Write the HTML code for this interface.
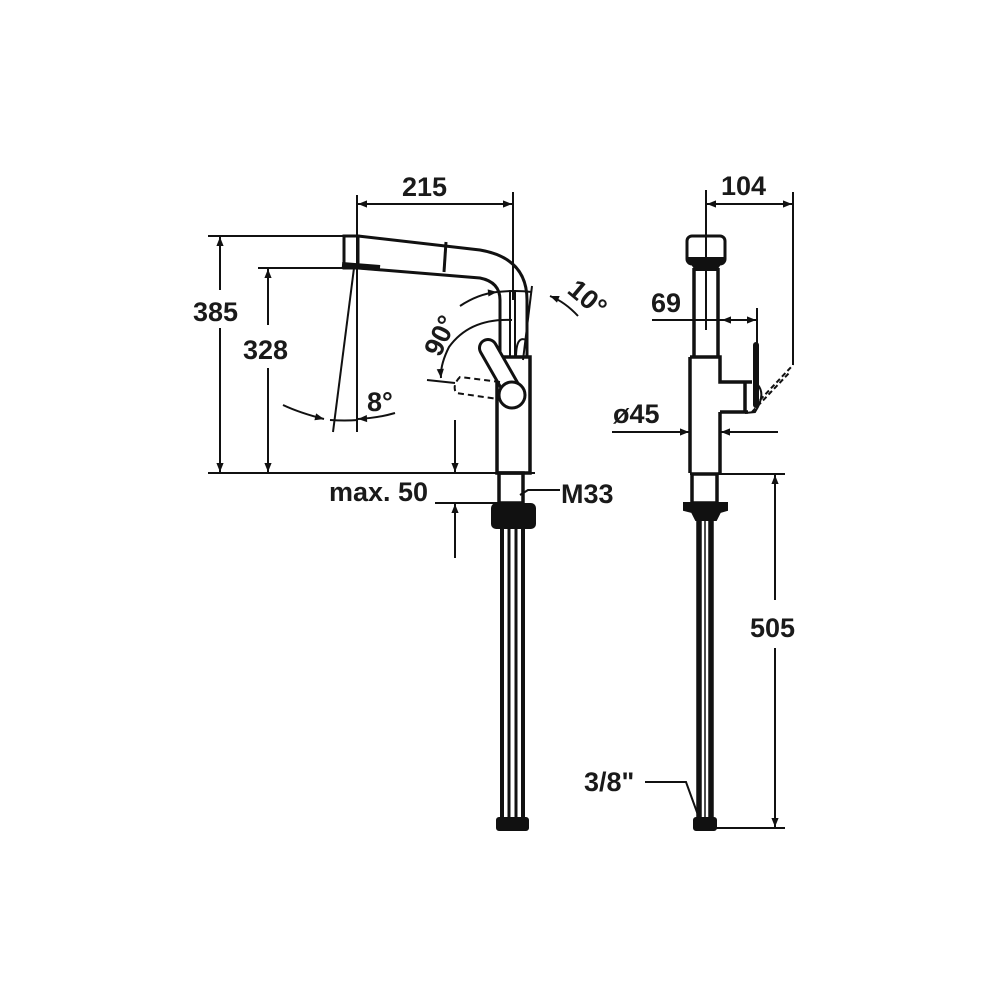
<!DOCTYPE html>
<html><head><style>html,body{margin:0;padding:0;background:#fff}svg{display:block}</style></head>
<body>
<svg width="1000" height="1000" viewBox="0 0 1000 1000" xmlns="http://www.w3.org/2000/svg">
<defs>
<marker id="a" viewBox="0 0 10 10" refX="10" refY="5" markerWidth="12" markerHeight="9" orient="auto-start-reverse" markerUnits="userSpaceOnUse"><path d="M0,1 L10,5 L0,9 z" fill="#111"/></marker>
</defs>
<g font-family="Liberation Sans, sans-serif" font-weight="bold" font-size="27" fill="#1a1a1a">
<text x="402" y="196">215</text>
<text x="193" y="321">385</text>
<text x="243" y="359">328</text>
<text x="367" y="411">8°</text>
<text x="329" y="501">max. 50</text>
<text x="561" y="503">M33</text>
<text x="0" y="0" transform="translate(566,292) rotate(40)">10°</text>
<text x="0" y="0" transform="translate(440,358) rotate(-65)">90°</text>
<text x="721" y="195">104</text>
<text x="651" y="312">69</text>
<text x="613" y="423">ø45</text>
<text x="750" y="637">505</text>
<text x="584" y="791">3/8"</text>
</g>
<g stroke="#111" fill="none" stroke-width="2">
<line x1="208" y1="236" x2="345" y2="236"/>
<line x1="220" y1="290" x2="220" y2="237" marker-end="url(#a)"/>
<line x1="220" y1="328" x2="220" y2="472" marker-end="url(#a)"/>
<line x1="258" y1="268" x2="345" y2="268"/>
<line x1="268" y1="325" x2="268" y2="269" marker-end="url(#a)"/>
<line x1="268" y1="368" x2="268" y2="472" marker-end="url(#a)"/>
<line x1="208" y1="473" x2="535" y2="473"/>
<line x1="357" y1="195" x2="357" y2="432"/>
<line x1="513" y1="192" x2="513" y2="300"/>
<line x1="358" y1="204" x2="512" y2="204" marker-start="url(#a)" marker-end="url(#a)"/>
<line x1="354" y1="268" x2="333" y2="432"/>
<path d="M283,405 Q300,413 324,419" marker-end="url(#a)"/>
<path d="M395,413 Q378,418 358,419" marker-end="url(#a)"/>
<path d="M330,420 Q345,421 358,420"/>
<line x1="532" y1="286" x2="523" y2="360"/>
<path d="M460,306 Q478,294 497,292" marker-end="url(#a)"/>
<path d="M578,316 Q565,302 550,296" marker-end="url(#a)"/>
<path d="M497,292 Q515,290 532,292"/>
<path d="M512,320 Q470,318 449,347 Q440,365 441,378" marker-end="url(#a)"/>
<line x1="427" y1="380" x2="455" y2="383"/>
<line x1="455" y1="420" x2="455" y2="472" marker-end="url(#a)"/>
<line x1="455" y1="558" x2="455" y2="504" marker-end="url(#a)"/>
<line x1="435" y1="503" x2="500" y2="503"/>
<path d="M560,490 L528,490 L520,495"/>
<path d="M358,236 L480,250 Q527,258 527,300 L527,357" stroke-width="3"/>
<path d="M358,268 L480,278 Q500,282 500,300 L500,357" stroke-width="3"/>
<line x1="510" y1="290" x2="510" y2="357"/>
<line x1="515" y1="290" x2="515" y2="357"/>
<rect x="344" y="236" width="14" height="32" stroke-width="3"/>
<line x1="342" y1="265" x2="380" y2="268" stroke-width="6"/>
<line x1="446" y1="242" x2="444" y2="272" stroke-width="3"/>
<rect x="497" y="357" width="33" height="116" stroke-width="3.5"/>
<rect x="499" y="473" width="24" height="30" stroke-width="3.5"/>
<path d="M516,358 Q516,335 526,340"/>
<path d="M488,348 L512,390" stroke="#111" stroke-width="20" stroke-linecap="round"/>
<path d="M488,348 L512,390" stroke="#fff" stroke-width="14" stroke-linecap="round"/>
<circle cx="512" cy="395" r="13" fill="#fff" stroke-width="3"/>
<path d="M500,382 L460,377 Q452,385 456,393 L498,399" stroke-dasharray="6,4"/>
<rect x="492" y="504" width="43" height="24" rx="4" fill="#111"/>
<line x1="502" y1="528" x2="502" y2="820" stroke-width="4"/>
<line x1="509" y1="528" x2="509" y2="820" stroke-width="3"/>
<line x1="516" y1="528" x2="516" y2="820" stroke-width="3"/>
<line x1="523" y1="528" x2="523" y2="820" stroke-width="4"/>
<rect x="497" y="818" width="31" height="12" rx="2" fill="#111"/>
<line x1="706" y1="190" x2="706" y2="330"/>
<line x1="793" y1="192" x2="793" y2="365"/>
<line x1="707" y1="204" x2="792" y2="204" marker-start="url(#a)" marker-end="url(#a)"/>
<rect x="687" y="236" width="38" height="28" rx="5" stroke-width="3"/>
<path d="M688,258 L724,258 L716,270 L696,270 z" fill="#111"/>
<line x1="694" y1="268" x2="694" y2="358" stroke-width="3.5"/>
<line x1="718" y1="268" x2="718" y2="358" stroke-width="3.5"/>
<path d="M690,357 L720,357 L720,382 L752,382 M720,412 L748,412 M745,382 L745,412" stroke-width="3.5"/>
<path d="M690,357 L690,473 M720,412 L720,473" stroke-width="3.5"/>
<line x1="756" y1="345" x2="756" y2="405" stroke-width="6" stroke-linecap="round"/>
<path d="M758,385 Q766,395 755,412 L745,413" stroke-width="2"/>
<path d="M760,400 L793,365 M752,412 L790,372" stroke-dasharray="5,3"/>
<line x1="757" y1="308" x2="757" y2="345"/>
<line x1="652" y1="320" x2="756" y2="320" marker-end="url(#a)"/>
<line x1="722" y1="320" x2="732" y2="320" marker-start="url(#a)"/>
<line x1="612" y1="432" x2="689" y2="432" marker-end="url(#a)"/>
<line x1="778" y1="432" x2="721" y2="432" marker-end="url(#a)"/>
<line x1="690" y1="474" x2="785" y2="474"/>
<rect x="692" y="474" width="25" height="29" stroke-width="3.5"/>
<path d="M684,503 L727,503 L727,510 L720,512 L716,520 L696,520 L692,512 L684,510 z" fill="#111"/>
<line x1="699" y1="520" x2="699" y2="820" stroke-width="5.5"/>
<line x1="711" y1="520" x2="711" y2="820" stroke-width="5.5"/>
<line x1="705" y1="520" x2="705" y2="820" stroke-width="1.5"/>
<rect x="694" y="818" width="22" height="12" rx="2" fill="#111"/>
<line x1="775" y1="600" x2="775" y2="475" marker-end="url(#a)"/>
<line x1="775" y1="648" x2="775" y2="827" marker-end="url(#a)"/>
<line x1="700" y1="828" x2="785" y2="828"/>
<path d="M645,782 L686,782 L698,815"/>
</g>
</svg>
</body></html>
